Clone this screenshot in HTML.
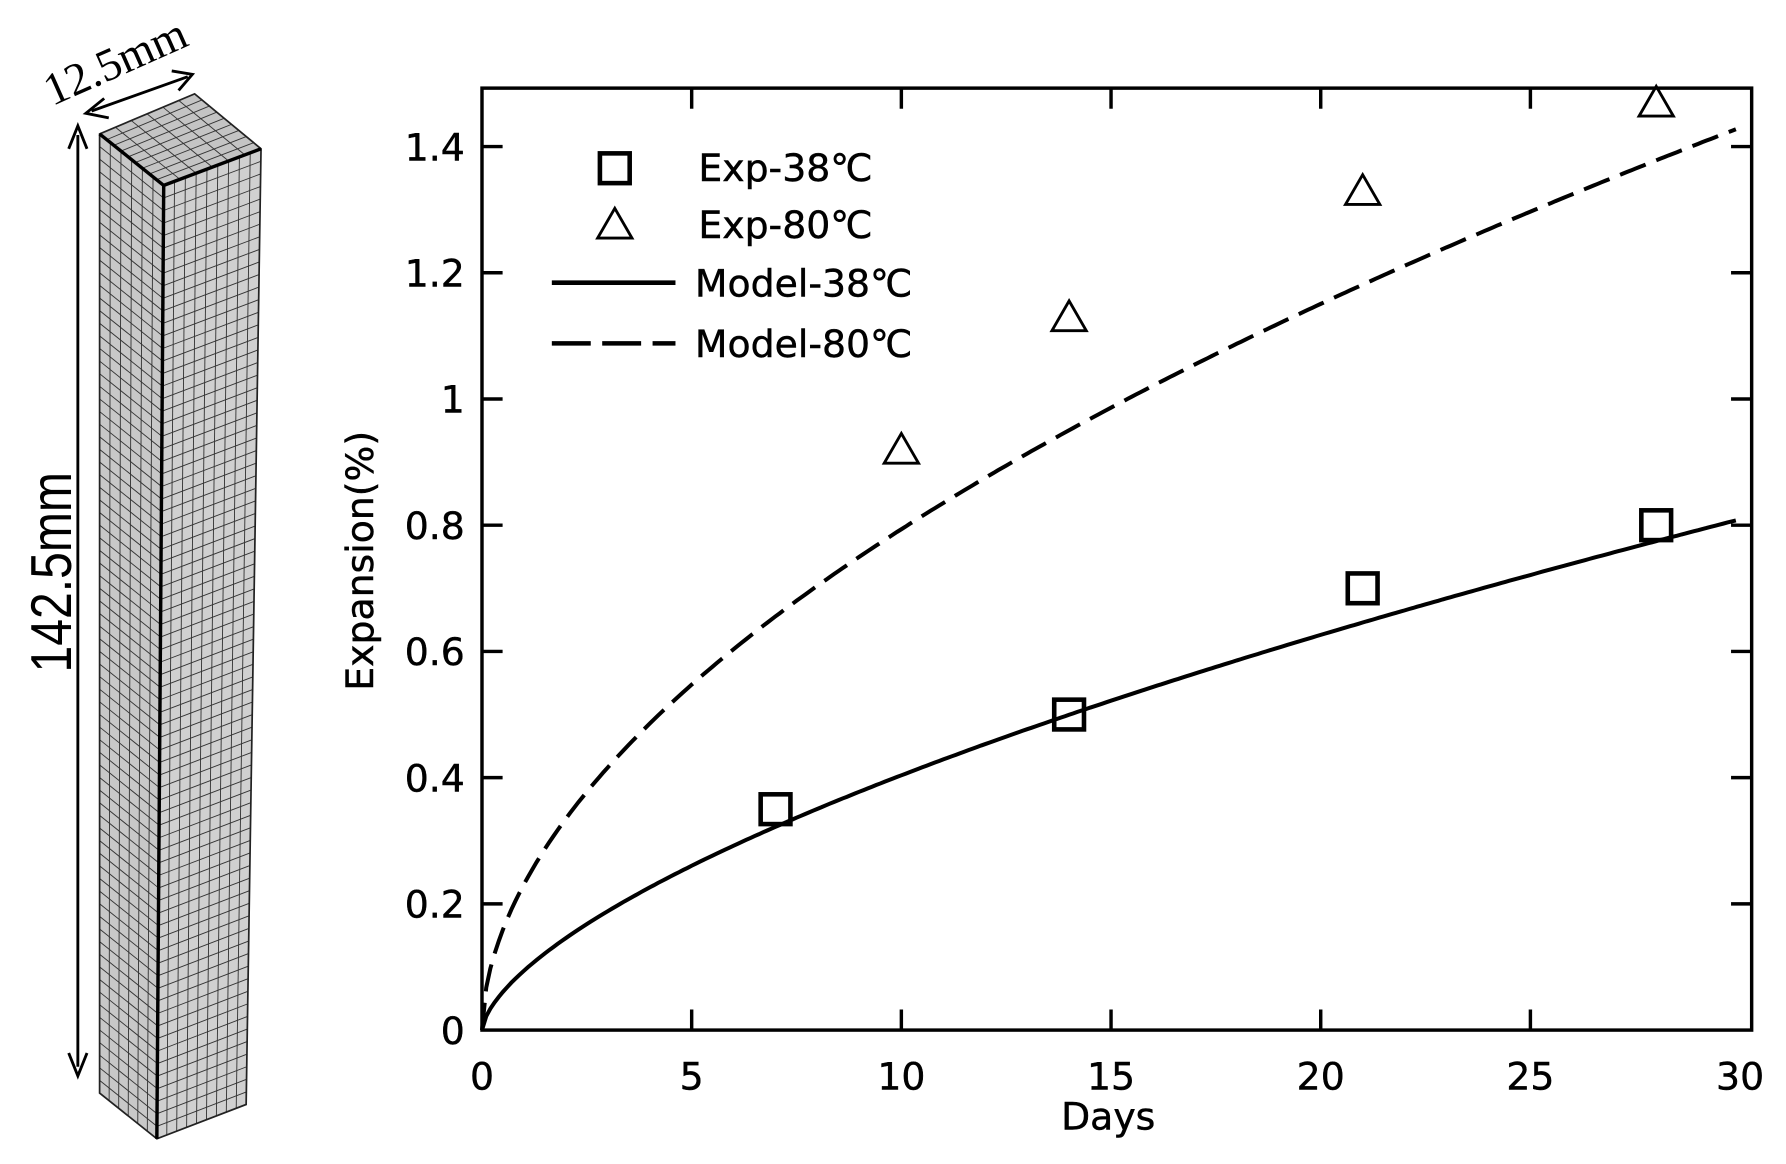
<!DOCTYPE html>
<html><head><meta charset="utf-8"><style>html,body{margin:0;padding:0;background:#fff}svg{display:block}</style></head>
<body>
<svg id="s" width="1786" height="1164" viewBox="0 0 1560 1017" preserveAspectRatio="none" xmlns="http://www.w3.org/2000/svg" font-family="DejaVu Sans, Liberation Sans, sans-serif">
<rect width="1560" height="1017" fill="#fff"/>
<g id="bar"></g>
<g id="plot"></g>
</svg>
<script>
const NS="http://www.w3.org/2000/svg";
function el(p,t,a,txt){const e=document.createElementNS(NS,t);for(const k in a)e.setAttribute(k,a[k]);if(txt!=null)e.textContent=txt;p.appendChild(e);return e;}
const bar=document.getElementById('bar'),plot=document.getElementById('plot');
const A=[87,117],B=[143,162],C=[228,130],D=[170,82],Ab=[87,955],Bb=[137,995],Cb=[215,965];
el(bar,'polygon',{points:`${A} ${B} ${Bb} ${Ab}`,fill:'#c8c8c8'});
el(bar,'polygon',{points:`${B} ${C} ${Cb} ${Bb}`,fill:'#d0d0d0'});
el(bar,'polygon',{points:`${A} ${D} ${C} ${B}`,fill:'#c4c4c4'});
function lerp(p,q,t){return [p[0]+(q[0]-p[0])*t,p[1]+(q[1]-p[1])*t];}
function grid(p0,p1,p2,p3,nc,nr){
 for(let i=1;i<nc;i++){const a=lerp(p0,p1,i/nc),b=lerp(p3,p2,i/nc);el(bar,'line',{x1:a[0],y1:a[1],x2:b[0],y2:b[1],stroke:'#333','stroke-width':0.8});}
 for(let j=1;j<nr;j++){const a=lerp(p0,p3,j/nr),b=lerp(p1,p2,j/nr);el(bar,'line',{x1:a[0],y1:a[1],x2:b[0],y2:b[1],stroke:'#333','stroke-width':0.8});}
}
grid(A,B,Bb,Ab,6,76);
grid(B,C,Cb,Bb,9,76);
grid(A,D,C,B,6,9);
el(bar,'polygon',{points:`${A} ${D} ${C} ${Cb} ${Bb} ${Ab}`,fill:'none',stroke:'#222','stroke-width':1.5});
el(bar,'polyline',{points:`${A} ${B} ${C}`,fill:'none',stroke:'#000','stroke-width':3});
el(bar,'line',{x1:B[0],y1:B[1],x2:Bb[0],y2:Bb[1],stroke:'#000','stroke-width':3});
el(bar,'line',{x1:68,y1:118,x2:68,y2:932,stroke:'#000','stroke-width':2.5});
el(bar,'polyline',{points:'60,130 68,110 76,130',fill:'none',stroke:'#000','stroke-width':2.5});
el(bar,'polyline',{points:'60,920 68,940 76,920',fill:'none',stroke:'#000','stroke-width':2.5});
el(bar,'text',{x:0,y:0,transform:'translate(62,500) rotate(-90) scale(1,1.2)','text-anchor':'middle','font-family':'Liberation Sans, sans-serif','font-size':42},'142.5mm');
el(bar,'line',{x1:80,y1:97,x2:164,y2:67,stroke:'#000','stroke-width':2.5});
el(bar,'polyline',{points:'91,86 75,99 95,103',fill:'none',stroke:'#000','stroke-width':2.5});
el(bar,'polyline',{points:'150,62 168,65 156,79',fill:'none',stroke:'#000','stroke-width':2.5});
el(bar,'text',{x:0,y:0,transform:'translate(106,66) rotate(-24)','text-anchor':'middle','font-family':'Liberation Serif, serif','font-size':40},'12.5mm');
const L=421,R=1530,T=77,Bt=900;
const X=d=>421+d*36.63, Y=v=>900-v*551.4;
el(plot,'rect',{x:L,y:T,width:R-L,height:Bt-T,fill:'none',stroke:'#000','stroke-width':3});
for(let d=0;d<=30;d+=5){const x=X(d);
 if(d>0&&d<30){el(plot,'line',{x1:x,y1:Bt,x2:x,y2:Bt-18,stroke:'#000','stroke-width':3});el(plot,'line',{x1:x,y1:T,x2:x,y2:T+18,stroke:'#000','stroke-width':3});}
 el(plot,'text',{x:x,y:952,'text-anchor':'middle','font-size':33,stroke:'#000','stroke-width':0.4},String(d));}
for(let i=0;i<=7;i++){const v=i*0.2,y=Y(v);
 if(i>0){el(plot,'line',{x1:L,y1:y,x2:L+18,y2:y,stroke:'#000','stroke-width':3});el(plot,'line',{x1:R,y1:y,x2:R-18,y2:y,stroke:'#000','stroke-width':3});}
 let s=i==0?'0':i==5?'1':(Math.round(v*10)/10).toString();
 el(plot,'text',{x:406,y:y+12,'text-anchor':'end','font-size':33,stroke:'#000','stroke-width':0.4},s);}
el(plot,'text',{x:968,y:987,'text-anchor':'middle','font-size':33,stroke:'#000','stroke-width':0.4},'Days');
el(plot,'text',{x:0,y:0,transform:'translate(326,490) rotate(-90)','text-anchor':'middle','font-size':33,stroke:'#000','stroke-width':0.4},'Expansion(%)');
function curve(a,b){let p=[];for(let t=0;t<=30;t+=0.1){p.push(X(t).toFixed(1)+','+Y(a*Math.pow(t,b)).toFixed(1));}return p.join(' ');}
el(plot,'polyline',{points:curve(0.094,0.633),fill:'none',stroke:'#000','stroke-width':3.5});
el(plot,'polyline',{points:curve(0.231,0.536),fill:'none',stroke:'#000','stroke-width':3.5,'stroke-dasharray':'24 10'});
function sq(x,y){el(plot,'rect',{x:x-13,y:y-13,width:26,height:26,fill:'none',stroke:'#000','stroke-width':4});}
function tri(x,y){el(plot,'polygon',{points:`${x-15},${y+12} ${x},${y-14} ${x+15},${y+12}`,fill:'none',stroke:'#000','stroke-width':2.5});}
[[7,.35],[14,.5],[21,.7],[28,.8]].forEach(p=>sq(X(p[0]),Y(p[1])));
[[10,.92],[14,1.13],[21,1.33],[28,1.47]].forEach(p=>tri(X(p[0]),Y(p[1])));
sq(537,147);tri(537,196);
el(plot,'line',{x1:482,y1:247,x2:590,y2:247,stroke:'#000','stroke-width':4});
el(plot,'line',{x1:482,y1:300,x2:590,y2:300,stroke:'#000','stroke-width':4,'stroke-dasharray':'34 10'});
el(plot,'text',{x:610,y:158,'font-size':33,stroke:'#000','stroke-width':0.4},'Exp-38℃');
el(plot,'text',{x:610,y:208,'font-size':33,stroke:'#000','stroke-width':0.4},'Exp-80℃');
el(plot,'text',{x:607,y:259,'font-size':33,stroke:'#000','stroke-width':0.4},'Model-38℃');
el(plot,'text',{x:607,y:312,'font-size':33,stroke:'#000','stroke-width':0.4},'Model-80℃');
</script>
</body></html>
